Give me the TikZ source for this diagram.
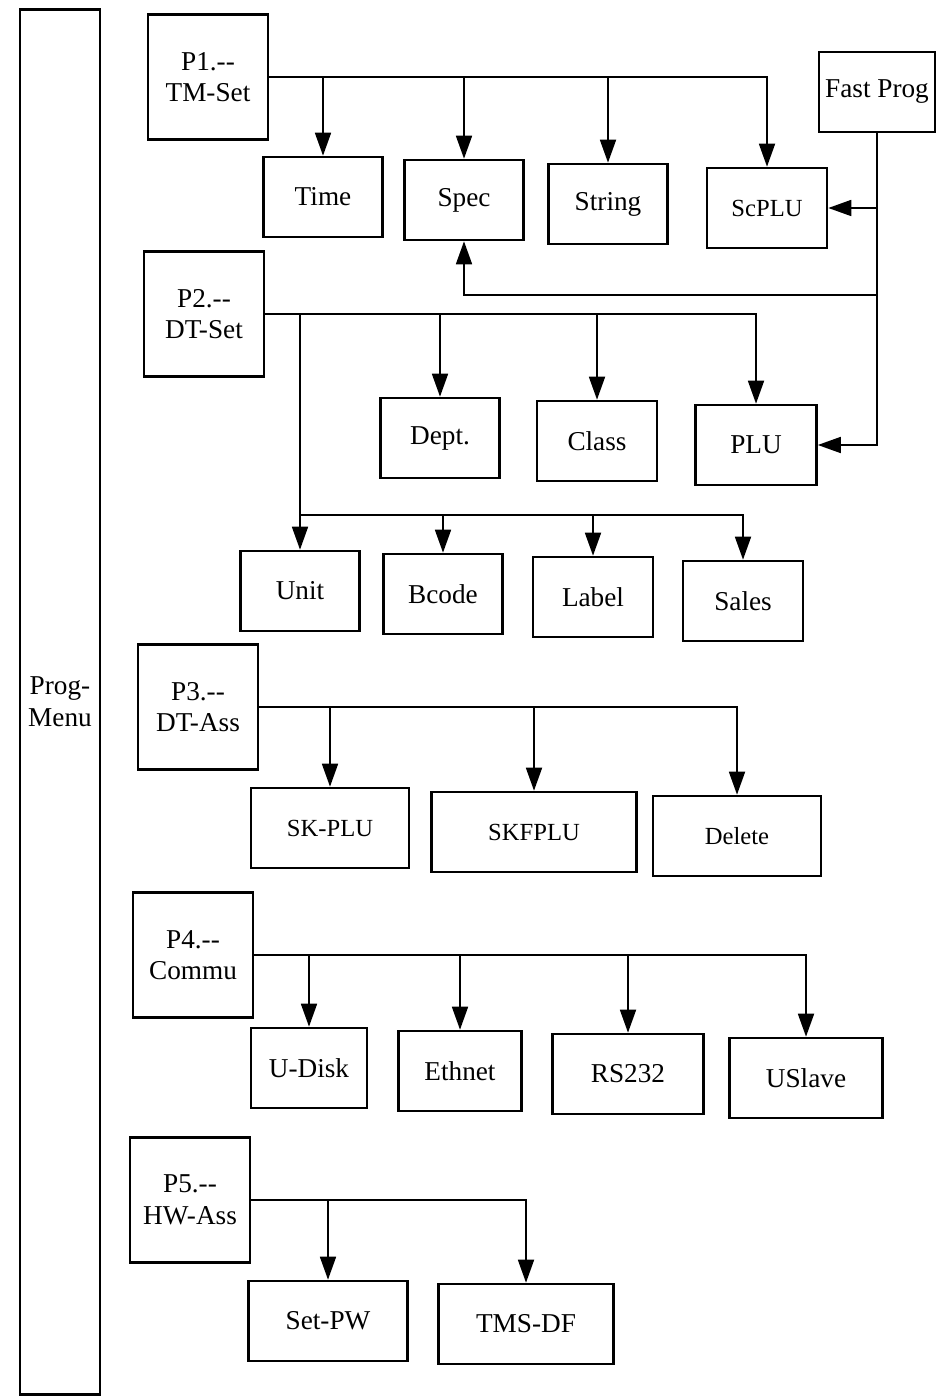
\documentclass[tikz,border=0pt]{standalone}
\usepackage{fontspec}
\setmainfont{Liberation Serif}
\usetikzlibrary{arrows.meta,positioning}
\newcommand{\twodash}{\mbox{-}\mbox{-}}

\begin{document}
\begin{tikzpicture}[x=0.02cm, y=-0.02cm,
    box/.style={draw, line width=1.5pt, minimum width=2.38cm, minimum height=1.6cm,
      inner sep=0pt, font=\fontsize{15.5}{18}\selectfont},
    pbox/.style={box, minimum width=2.4cm, minimum height=2.5cm, align=center},
    sbox/.style={box, font=\fontsize{14}{17}\selectfont},
    arr/.style={-{Triangle[length=0.46cm, width=0.32cm]}, line width=1pt}]
    \useasboundingbox (0,0) rectangle (940,1398);
    % main menu column
    \node[box, minimum width=1.6cm, minimum height=27.7cm, align=center] (menu) at (60,702) {Prog-\\Menu};
    % P1 group
    \node[pbox] (p1) at (208,77) {P1.\twodash\\TM-Set};
    \node[box] (time) at (323,197) {Time};
    \node[box] (spec) at (464,200) {Spec};
    \node[box] (string) at (608,204) {String};
    \node[sbox, minimum width=2.4cm] (scplu) at (767,208) {ScPLU};
    \node[box, minimum width=2.32cm] (fast) at (877,92) {Fast Prog};
    % P2 group
    \node[pbox] (p2) at (204,314) {P2.\twodash\\DT-Set};
    \node[box] (dept) at (440,438) {Dept.};
    \node[box, minimum width=2.4cm] (class) at (597,441) {Class};
    \node[box, minimum width=2.42cm] (plu) at (756,445) {PLU};
    \node[box] (unit) at (300,591) {Unit};
    \node[box] (bcode) at (443,594) {Bcode};
    \node[box, minimum width=2.4cm] (label) at (593,597) {Label};
    \node[box, minimum width=2.4cm] (sales) at (743,601) {Sales};
    % P3 group
    \node[pbox] (p3) at (198,707) {P3.\twodash\\DT-Ass};
    \node[sbox, minimum width=3.16cm] (skplu) at (330,828) {SK-PLU};
    \node[sbox, minimum width=4.1cm] (skfplu) at (534,832) {SKFPLU};
    \node[sbox, minimum width=3.36cm] (delete) at (737,836) {Delete};
    % P4 group
    \node[pbox] (p4) at (193,955) {P4.\twodash\\Commu};
    \node[box, minimum width=2.32cm] (udisk) at (309,1068) {U-Disk};
    \node[box, minimum width=2.46cm] (ethnet) at (460,1071) {Ethnet};
    \node[box, minimum width=3.02cm] (rs) at (628,1074) {RS232};
    \node[box, minimum width=3.06cm] (uslave) at (806,1078) {USlave};
    % P5 group
    \node[pbox] (p5) at (190,1200) {P5.\twodash\\HW-Ass};
    \node[box, minimum width=3.18cm] (setpw) at (328,1321) {Set-PW};
    \node[box, minimum width=3.5cm] (tmsdf) at (526,1324) {TMS-DF};
    % connectors P1
    \draw[arr] (p1.east) -| (scplu.north);
    \foreach \n in {time,spec,string}
      \draw[arr] (\n.north |- p1.east) -- (\n.north);
    % fast prog links
    \coordinate (fjoin) at (877,295);
    \draw[arr] (fast.south) |- (plu.east);
    \draw[arr] (fast.south |- scplu.east) -- (scplu.east);
    \draw[arr] (fjoin) -| (spec.south);
    % connectors P2
    \draw[arr] (p2.east) -| (plu.north);
    \foreach \n in {dept,class,unit}
      \draw[arr] (\n.north |- p2.east) -- (\n.north);
    \coordinate (dtjoin) at (300,515);
    \draw[arr] (dtjoin) -| (sales.north);
    \foreach \n in {bcode,label}
      \draw[arr] (\n.north |- dtjoin) -- (\n.north);
    % connectors P3
    \draw[arr] (p3.east) -| (delete.north);
    \foreach \n in {skplu,skfplu}
      \draw[arr] (\n.north |- p3.east) -- (\n.north);
    % connectors P4
    \draw[arr] (p4.east) -| (uslave.north);
    \foreach \n in {udisk,ethnet,rs}
      \draw[arr] (\n.north |- p4.east) -- (\n.north);
    % connectors P5
    \draw[arr] (p5.east) -| (tmsdf.north);
    \draw[arr] (setpw.north |- p5.east) -- (setpw.north);
\end{tikzpicture}
\end{document}
